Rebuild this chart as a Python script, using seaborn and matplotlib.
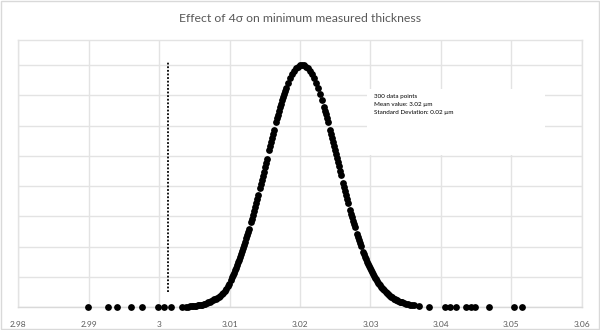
import matplotlib
matplotlib.use("Agg")
import matplotlib.pyplot as plt
import seaborn as sns
import pandas as pd
from matplotlib.patches import Rectangle

# ---------------- data ----------------
tail_left_x = [2.98989, 2.99277, 2.99396, 2.99604, 2.99750, 2.99979, 3.00065, 3.00168, 3.00324]
tail_left_y = [0, 0, 0, 0, 0, 0, 0, 0, 0]

curve_x = [3.00380, 3.00409, 3.00437, 3.00480, 3.00522, 3.00565, 3.00607, 3.00650, 3.00693, 3.00735,
           3.00778, 3.00821, 3.00863, 3.00906, 3.00948, 3.00991, 3.01034, 3.01062, 3.01091, 3.01119,
           3.01147, 3.01176, 3.01204, 3.01233, 3.01261, 3.01304, 3.01332, 3.01360, 3.01389, 3.01431,
           3.01460, 3.01488, 3.01517, 3.01559, 3.01588, 3.01616, 3.01659, 3.01687, 3.01716, 3.01744,
           3.01772, 3.01801, 3.01829, 3.01858, 3.01886, 3.01914, 3.01943, 3.01971, 3.02000, 3.02028,
           3.02056, 3.02085, 3.02113, 3.02142, 3.02170, 3.02199, 3.02227, 3.02255, 3.02284, 3.02312,
           3.02355, 3.02383, 3.02426, 3.02454, 3.02483, 3.02511, 3.02539, 3.02568, 3.02610, 3.02639,
           3.02667, 3.02710, 3.02738, 3.02767, 3.02824, 3.02852, 3.02909, 3.02937, 3.02966, 3.03008,
           3.03037, 3.03065, 3.03093, 3.03136, 3.03164, 3.03193, 3.03250, 3.03278, 3.03306, 3.03335,
           3.03363, 3.03392, 3.03420, 3.03449, 3.03505, 3.03562, 3.03619, 3.03690, 3.03827]
curve_y = [0.1, 0.15, 0.2, 0.3, 0.4, 0.6, 0.8, 1.1, 1.5, 2.0,
           2.5, 3.0, 3.6, 4.6, 5.9, 7.6, 9.8, 11.3, 13.0, 14.8,
           16.6, 18.6, 20.6, 22.7, 24.8, 28.0, 30.5, 33.0, 35.6, 39.4,
           42.0, 44.8, 47.6, 51.8, 54.5, 57.2, 61.1, 63.6, 66.0, 68.3,
           70.4, 72.3, 74.0, 75.6, 76.9, 78.0, 78.9, 79.5, 79.9, 80.0,
           79.9, 79.5, 78.9, 78.0, 76.9, 75.6, 74.0, 72.3, 70.4, 68.3,
           64.9, 62.4, 58.6, 56.0, 53.3, 50.6, 47.8, 45.1, 41.1, 38.4,
           35.8, 32.1, 29.7, 27.4, 23.1, 21.1, 17.4, 15.8, 14.2, 12.1,
           10.8, 9.7, 8.6, 7.2, 6.3, 5.6, 4.3, 3.7, 3.2, 2.8,
           2.4, 2.1, 1.8, 1.5, 1.1, 0.75, 0.55, 0.3, 0.1]

# further points read along the rising and falling flanks
flank_x = [3.00465, 3.00508, 3.00551, 3.00593, 3.00636, 3.00679, 3.00721, 3.00764, 3.00806, 3.00849,
           3.00892, 3.00934, 3.00977, 3.01019, 3.01048, 3.01076, 3.01105, 3.01133, 3.01162, 3.01190,
           3.01218, 3.01247, 3.01275, 3.01318, 3.01346, 3.01375, 3.01403, 3.01446, 3.01474, 3.01502,
           3.01531, 3.01573, 3.01602, 3.01630, 3.01673, 3.01701, 3.01730, 3.01758, 3.01787,
           3.02341, 3.02369, 3.02397, 3.02440, 3.02468, 3.02497, 3.02525, 3.02554, 3.02582, 3.02625,
           3.02653, 3.02681, 3.02724, 3.02752, 3.02781, 3.02809, 3.02838, 3.02866, 3.02894, 3.02923,
           3.02951, 3.02980, 3.02994, 3.03022, 3.03051, 3.03079, 3.03108, 3.03122, 3.03150, 3.03179,
           3.03221, 3.03235, 3.03264, 3.03292, 3.03349, 3.03377, 3.03434, 3.03477, 3.03534, 3.03591]
flank_y = [0.25, 0.35, 0.55, 0.75, 1.0, 1.35, 1.8, 2.3, 2.8, 3.4,
           4.2, 5.4, 7.0, 9.0, 10.5, 12.1, 13.9, 15.7, 17.6, 19.6,
           21.6, 23.7, 25.9, 29.2, 31.7, 34.3, 36.9, 40.7, 43.4, 46.2,
           49.0, 53.1, 55.9, 58.5, 62.4, 64.8, 67.2, 69.4, 71.4,
           66.0, 63.7, 61.2, 57.3, 54.6, 51.9, 49.2, 46.5, 43.7, 39.7,
           37.1, 34.5, 30.9, 28.5, 26.3, 24.1, 22.1, 20.1, 18.3, 16.6,
           15.0, 13.5, 12.8, 11.5, 10.2, 9.1, 8.1, 7.6, 6.7, 5.9,
           4.9, 4.6, 4.0, 3.45, 2.6, 2.25, 1.65, 1.3, 0.9, 0.65]

tail_right_x = [3.04061, 3.04127, 3.04219, 3.04355, 3.04425, 3.04490, 3.04680, 3.05040, 3.05159]
tail_right_y = [0, 0, 0, 0, 0, 0, 0, 0, 0]

limit_x = 3.0012            # 4-sigma limit (dotted line)
limit_y = [5.0, 81.3]

x_ticks = [2.98, 2.99, 3.00, 3.01, 3.02, 3.03, 3.04, 3.05, 3.06]
x_tick_labels = ["2.98", "2.99", "3", "3.01", "3.02", "3.03", "3.04", "3.05", "3.06"]
y_grid = [0, 10, 20, 30, 40, 50, 60, 70, 80]
y_top = 88.3

title = "Effect of 4\u03c3 on minimum measured thickness"
note_lines = ["300 data points", "Mean value: 3.02 \u00b5m", "Standard Deviation: 0.02 \u00b5m"]

# ---------------- figure ----------------
sns.set_style("white")
plt.rcParams["font.family"] = ["Lato", "DejaVu Sans"]

df = pd.DataFrame({
    "thickness": tail_left_x + curve_x + flank_x + tail_right_x,
    "value": tail_left_y + curve_y + flank_y + tail_right_y,
})

fig = plt.figure(figsize=(6.0, 3.3), dpi=100)
ax = fig.add_axes([0.0307, 0.0697, 0.9388, 0.8091])

grid_col = "#e3e3e3"
ax.set_xlim(x_ticks[0], x_ticks[-1])
ax.set_ylim(0, y_top)
ax.set_xticks(x_ticks)
ax.set_xticklabels(x_tick_labels)
ax.set_yticks(y_grid)
ax.set_yticklabels([])
ax.tick_params(axis="both", length=0)
ax.tick_params(axis="x", labelsize=6, colors="#595959", pad=10)
ax.grid(True, color=grid_col, linewidth=1.0)
ax.set_axisbelow(True)
for side in ["left", "right", "top", "bottom"]:
    ax.spines[side].set_color(grid_col)
    ax.spines[side].set_linewidth(1.0)
ax.spines["bottom"].set_color("#d9d9d9")

# white note box hiding gridlines
ax.add_patch(Rectangle((0.6189, 0.5693), 0.316, 0.2472, transform=ax.transAxes,
                       facecolor="white", edgecolor="none", zorder=1.5))

# dotted limit line
ax.plot([limit_x, limit_x], limit_y, color="black", linewidth=1.3,
        linestyle=(0, (1, 1)), zorder=2)

sns.scatterplot(data=df, x="thickness", y="value", ax=ax, color="black",
                s=24, linewidth=0, zorder=3, clip_on=False, legend=False)
ax.set_xlabel("")
ax.set_ylabel("")

ys = [0.790, 0.759, 0.728]
for line, yy in zip(note_lines, ys):
    ax.text(0.6313, yy, line, transform=ax.transAxes, fontsize=4.5,
            color="black", va="center", ha="left", zorder=4)

fig.text(0.5, 1 - 18 / 330, title, ha="center", va="center",
         fontsize=8.8, color="#595959")

fig.patches.append(Rectangle((0.001, 0.002), 0.997, 0.995, transform=fig.transFigure,
                             facecolor="none", edgecolor="#d9d9d9", linewidth=1.0))

fig.savefig("out.png", dpi=100)
